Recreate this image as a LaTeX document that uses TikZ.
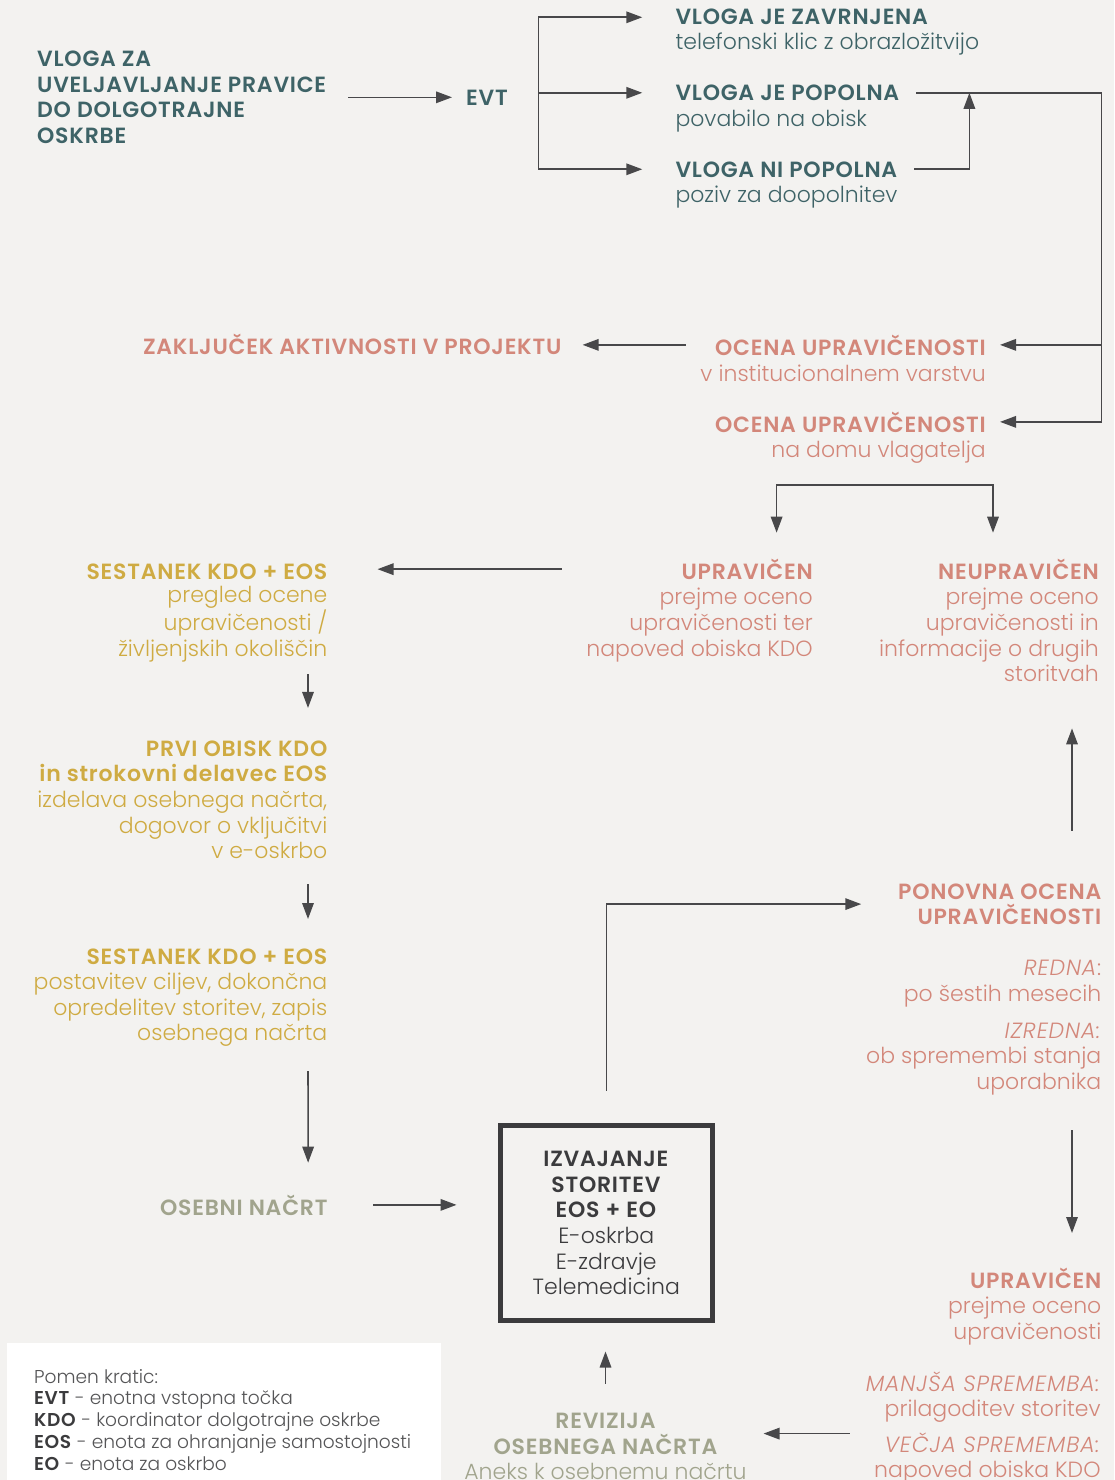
\documentclass[tikz,border=0pt]{standalone}
\usepackage{fontspec}
\setmainfont{Poppins}[UprightFont=* Light, ItalicFont=* Light Italic, BoldFont=* SemiBold, BoldFeatures={LetterSpace=3.5}, ItalicFeatures={LetterSpace=4}]
\usetikzlibrary{positioning,arrows.meta}
\definecolor{bgc}{HTML}{F3F2F0}
\definecolor{tlc}{HTML}{3E6367}
\definecolor{roc}{HTML}{D3877A}
\definecolor{goc}{HTML}{CFAB42}
\definecolor{sgc}{HTML}{A1A48D}
\definecolor{dkc}{HTML}{3B3B3D}
\definecolor{lgc}{HTML}{555557}
\definecolor{arc}{HTML}{48484A}
\newcommand\mainsize{\fontsize{22}{25.6}\selectfont}
\newcommand\legsize{\fontsize{18.6}{21.7}\selectfont}

\begin{document}
\begin{tikzpicture}[x=1pt, y=-1pt, every node/.style={inner sep=0pt, font=\mainsize},
	hd/.style={font=\mainsize\bfseries},
	tl/.style={text=tlc}, ro/.style={text=roc}, go/.style={text=goc}, sg/.style={text=sgc},
	subl/.style 2 args={below=#2 of #1, anchor=base west, align=left},
	subr/.style 2 args={below=#2 of #1, anchor=base east, align=right},
	ln/.style={draw=arc, line width=1.6pt, line cap=rect},
	ar/.style={ln, -{Triangle[length=16pt, width=11.5pt]}}]
		\fill[bgc] (0,0) rectangle (1114,1480);
		\useasboundingbox (0,0) rectangle (1114,1480);
		\fill[white] (7,1342.7) rectangle (441,1490);

		% vloga
		\node[hd, tl, align=left, anchor=base west] (vloga) at (37,143.5) {VLOGA ZA\\UVELJAVLJANJE PRAVICE\\DO DOLGOTRAJNE\\OSKRBE};
		\node[hd, tl, anchor=base west] (evt) at (466,105) {EVT};
		\node[hd, tl, anchor=base west] (zav) at (675.3,25) {VLOGA JE ZAVRNJENA};
		\node[tl, subl={zav.base west}{25pt}] (zav_txt) {telefonski klic z obrazložitvijo};
		\node[hd, tl, anchor=base west] (pop) at (675.3,100.5) {VLOGA JE POPOLNA};
		\node[tl, subl={pop.base west}{25.6pt}] (pop_txt) {povabilo na obisk};
		\node[hd, tl, anchor=base west] (nip) at (675.3,177) {VLOGA NI POPOLNA};
		\node[tl, subl={nip.base west}{25.6pt}] (nip_txt) {poziv za doopolnitev};

		% ocena
		\node[hd, ro, anchor=base east] (oc1) at (986,355) {OCENA UPRAVIČENOSTI};
		\node[ro, subr={oc1.base east}{26pt}] (oc1_txt) {v institucionalnem varstvu};
		\node[hd, ro, anchor=base east] (oc2) at (986,432) {OCENA UPRAVIČENOSTI};
		\node[ro, subr={oc2.base east}{25.6pt}] (oc2_txt) {na domu vlagatelja};
		\node[hd, ro, anchor=base east] (zak) at (561.6,354.3) {ZAKLJUČEK AKTIVNOSTI V PROJEKTU};
		\node[hd, ro, anchor=base east] (upr) at (813,579.3) {UPRAVIČEN};
		\node[ro, subr={upr.base east}{76.8pt}] (upr_txt) {prejme oceno\\upravičenosti ter\\napoved obiska KDO};
		\node[hd, ro, anchor=base east] (neu) at (1099,579.3) {NEUPRAVIČEN};
		\node[ro, subr={neu.base east}{102.4pt}] (neu_txt) {prejme oceno\\upravičenosti in\\informacije o drugih\\storitvah};

		% kdo + eos
		\node[hd, go, anchor=base east] (ses1) at (327.5,579.3) {SESTANEK KDO + EOS};
		\node[go, subr={ses1.base east}{76.8pt}] (ses1_txt) {pregled ocene\\upravičenosti /\\življenjskih okoliščin};
		\node[hd, go, anchor=base east, align=right] (prvi) at (327.5,781.8) {PRVI OBISK KDO\\in strokovni delavec EOS};
		\node[go, subr={prvi.base east}{77pt}] (prvi_txt) {izdelava osebnega načrta,\\dogovor o vključitvi\\v e-oskrbo};
		\node[hd, go, anchor=base east] (ses2) at (327.5,964) {SESTANEK KDO + EOS};
		\node[go, subr={ses2.base east}{76.8pt}] (ses2_txt) {postavitev ciljev, dokončna\\opredelitev storitev, zapis\\osebnega načrta};
		\node[hd, sg, anchor=base east] (osn) at (327.7,1215) {OSEBNI NAČRT};

		% izvajanje
		\node[draw=dkc, line width=5pt, minimum width=211.5pt, minimum height=195.6pt, text=dkc, align=center] (izv) at (606.3,1223) {\textbf{IZVAJANJE}\\\textbf{STORITEV}\\\textbf{EOS + EO}\\E-oskrba\\E-zdravje\\Telemedicina};

		% ponovna ocena
		\node[hd, ro, anchor=base east, align=right] (pon) at (1101.5,924.6) {PONOVNA OCENA\\UPRAVIČENOSTI};
		\node[ro, subr={pon.base east}{76.4pt}] (red) {\textit{REDNA}:\\po šestih mesecih};
		\node[ro, subr={red.base east}{88.3pt}] (izr) {\textit{IZREDNA:}\\ob spremembi stanja\\uporabnika};
		\node[hd, ro, anchor=base east] (upr2) at (1101.5,1288.3) {UPRAVIČEN};
		\node[ro, subr={upr2.base east}{51.2pt}] (upr2_txt) {prejme oceno\\upravičenosti};
		\node[ro, anchor=base east, align=right] (man) at (1100.8,1416.8) {\textit{MANJŠA SPREMEMBA:}\\prilagoditev storitev};
		\node[ro, subr={man.base east}{61pt}] (vec) {\textit{VEČJA SPREMEMBA:}\\napoved obiska KDO};
		\node[hd, sg, align=center, anchor=base] (rev) at (605.5,1454) {REVIZIJA\\OSEBNEGA NAČRTA};
		\node[sg, below=25pt of rev.base, anchor=base] (rev_txt) {Aneks k osebnemu načrtu};

		% legenda
		\node[font=\legsize, text=lgc, align=left, anchor=base west] (legenda) at (34,1470) {Pomen kratic:\\\textcolor{dkc}{\textbf{EVT}} - enotna vstopna točka\\\textcolor{dkc}{\textbf{KDO}} - koordinator dolgotrajne oskrbe\\\textcolor{dkc}{\textbf{EOS}} - enota za ohranjanje samostojnosti\\\textcolor{dkc}{\textbf{EO}} - enota za oskrbo};

		\coordinate (fork) at ([xshift=30.6pt]evt.east);
		\coordinate (rail) at (1101.5,95);
		\coordinate (sp_l) at (776.6,485);
		\coordinate (sp_r) at (993,485);

		\draw[ar, shorten <=22pt, shorten >=14pt] (vloga.east |- evt.west) -- (evt.west);
		\draw[ar, shorten >=33pt] (fork |- nip.west) |- (zav.west);
		\draw[ar, shorten >=33pt] (fork |- pop.west) -- (pop.west);
		\draw[ar, shorten >=33pt] (fork |- nip.west) -- (nip.west);
		\draw[ar] ([xshift=17pt]nip.east) -| ([xshift=70pt]pop.east);
		\draw[ar] ([xshift=17pt]pop.east) -| (rail |- oc2.east) -- ([xshift=14pt]oc2.east);
		\draw[ar] (rail |- oc1.east) -- ([xshift=14pt]oc1.east);
		\draw[ar, shorten <=29.5pt, shorten >=21pt] (oc1.west) -- (oc1.west -| zak.east);
		\draw[ar, shorten >=46.6pt] (sp_l) -| (sp_r |- neu.base);
		\draw[ar, shorten >=46.6pt] (sp_l) -- (sp_l |- upr.base);
		\draw[ar, shorten <=25pt, shorten >=50pt] (upr_txt.west |- upr.west) -- (ses1.east |- upr.west);
		\draw[ar, shorten <=12.5pt, shorten >=32.5pt] ([xshift=-19.5pt]ses1_txt.south east) -- ([xshift=-19.5pt]prvi.north east);
		\draw[ar, shorten <=25.7pt, shorten >=45pt] ([xshift=-19.5pt]prvi_txt.south east) -- ([xshift=-19.5pt]ses2.base east);
		\draw[ar, shorten <=25pt, shorten >=52.3pt] ([xshift=-19.5pt]ses2_txt.south east) -- ([xshift=-19.5pt]osn.base east);
		\draw[ar, shorten <=46pt, shorten >=41.5pt] (osn.east) -- (osn.east -| izv.west);
		\draw[ar, shorten <=33pt, shorten >=36.7pt] (izv.north) |- (pon.west);
		\draw[ar, shorten <=53pt, shorten >=46.3pt] ([xshift=-29.5pt]pon.north east) -- ([xshift=-29.5pt]pon.north east |- neu_txt.south);
		\draw[ar, shorten <=35.4pt, shorten >=55.3pt] ([xshift=-29.5pt]izr.south east) -- ([xshift=-29.5pt]upr2.base east);
		\draw[ar, shorten <=30pt, shorten >=28.2pt] (rev.north) -- (rev.north |- izv.south);
		\draw[ar, shorten <=16pt, shorten >=46pt] (rev.east -| man.west) -- (rev.east);
	\end{tikzpicture}
\end{document}
